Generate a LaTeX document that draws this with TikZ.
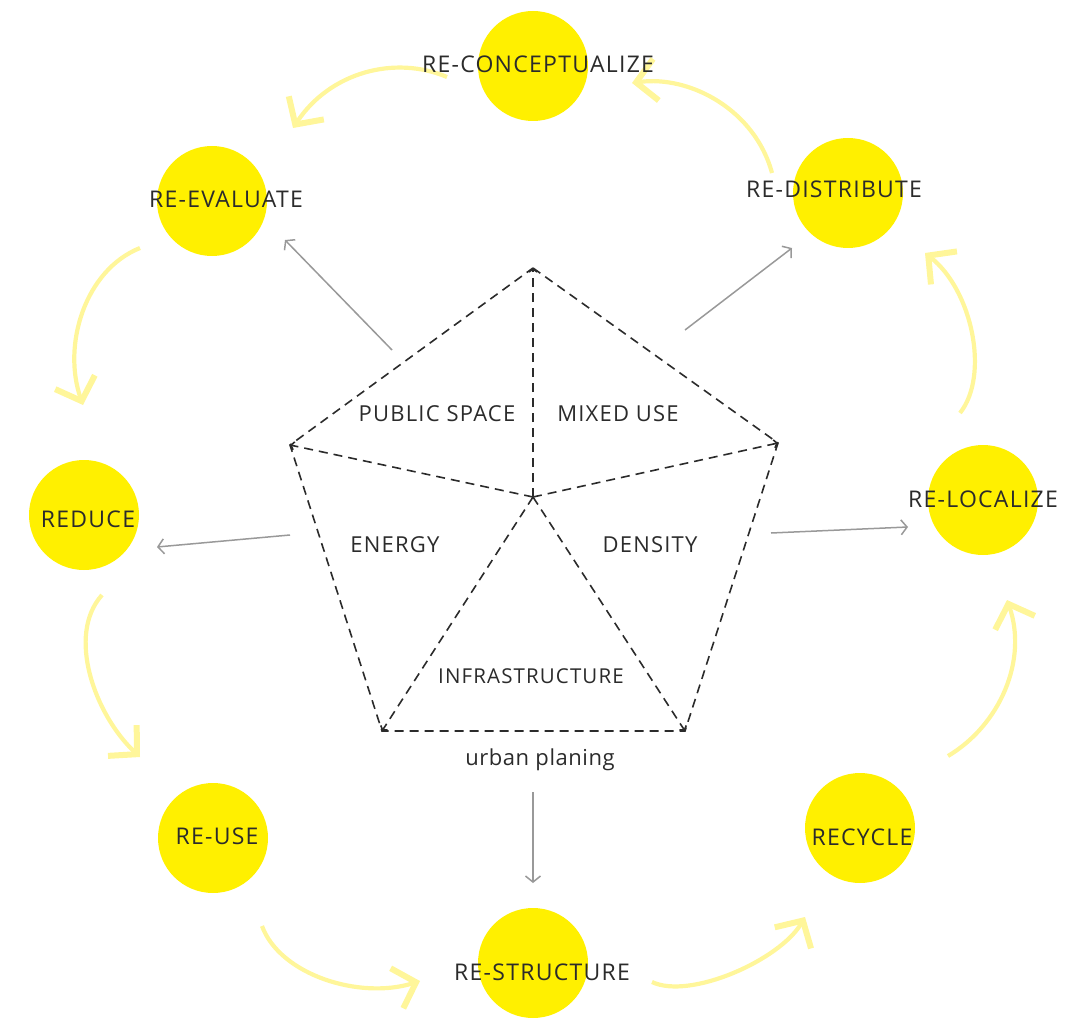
\documentclass[tikz,border=0pt]{standalone}
\usepackage{fontspec}
\setmainfont{Open Sans}[LetterSpace=2.5]
\newfontfamily\capsfont{Open Sans}[LetterSpace=5.5]
\usetikzlibrary{positioning, calc, arrows.meta}
\definecolor{sun}{HTML}{FFF000}
\definecolor{pale}{HTML}{FFF69A}
\definecolor{ink}{HTML}{2B2B2B}
\definecolor{wire}{HTML}{999999}
\tikzstyle{Flow} = [
%Create the pale curved arrows between circles:
draw=pale, line width=4.2pt,
-{Straight Barb[length=20pt, width=42pt, line width=6pt]}
]
\tikzstyle{Pointer} = [draw=wire, line width=1.5pt, -{Straight Barb[length=6pt, width=15pt]}]

\begin{document}
\begin{tikzpicture}[x=1pt, y=-1pt,
		bubble/.style = {circle, fill=sun, minimum size=110pt, inner sep=0pt},
		tag/.style = {anchor=base, text=ink, inner sep=0pt, font=\capsfont\fontsize{23}{23}\selectfont},
		part/.style = {anchor=base, text=ink, inner sep=0pt, font=\capsfont\fontsize{22}{22}\selectfont},
		rim/.style = {draw=ink, line width=1.6pt, dash pattern=on 9pt off 6pt},
		ray/.style = {rim, -{Straight Barb[length=3pt, width=8pt]}},
	]
	\useasboundingbox (0,0) rectangle (1087,1019);

	% circles
	\node[bubble](RC) at (533,66){};
	\node[bubble](RE) at (212,201){};
	\node[bubble](RD) at (848,193){};
	\node[bubble](RR) at (84,515){};
	\node[bubble](RL) at (983,500){};
	\node[bubble](RU) at (213,838){};
	\node[bubble](RY) at (860,828){};
	\node[bubble](RS) at (533,963){};

	% curved arrows
	\coordinate(f1) at (447,77);  \coordinate(g1) at (293,128);
	\coordinate(f2) at (140,248); \coordinate(g2) at (83,405);
	\coordinate(f3) at (102,595); \coordinate(g3) at (140,757);
	\coordinate(f4) at (262,926); \coordinate(g4) at (420,981);
	\coordinate(f5) at (652,982); \coordinate(g5) at (805,917);
	\coordinate(f6) at (948,756); \coordinate(g6) at (1007,600);
	\coordinate(f7) at (960,413); \coordinate(g7) at (925,253);
	\coordinate(f8) at (772,173); \coordinate(g8) at (632,83);

	\draw[Flow](f1) .. controls (395,55) and (330,72) .. (g1);
	\draw[Flow](f2) .. controls (85,270) and (62,345) .. (g2);
	\draw[Flow](f3) .. controls (66,635) and (95,715) .. (g3);
	\draw[Flow](f4) .. controls (280,975) and (360,1000) .. (g4);
	\draw[Flow](f5) .. controls (690,1000) and (780,960) .. (g5);
	\draw[Flow](f6) .. controls (1000,725) and (1028,660) .. (g6);
	\draw[Flow](f7) .. controls (990,375) and (972,290) .. (g7);
	\draw[Flow](f8) .. controls (755,110) and (690,75) .. (g8);

	% circle texts
	\node[tag](tRC) at (538,73){RE-CONCEPTUALIZE};
	\node[tag](tRE) at (226,208){RE-EVALUATE};
	\node[tag](tRD) at (834,198){RE-DISTRIBUTE};
	\node[tag](tRR) at (88,527){REDUCE};
	\node[tag](tRL) at (983,507){RE-LOCALIZE};
	\node[tag](tRU) at (217,844){RE-USE};
	\node[tag](tRY) at (862,845){RECYCLE};
	\node[tag](tRS) at (542,980){RE-STRUCTURE};

	% pentagon
	\coordinate(O) at (533,497);
	\coordinate(T) at (533,268);
	\coordinate(UR) at (778,443);
	\coordinate(LR) at (685,731);
	\coordinate(LL) at (382,731);
	\coordinate(UL) at (290,445);
	\draw[rim](T)--(UR)--(LR)--(LL)--(UL)--cycle;
	\foreach \v in {T,UR,LR,LL,UL}
		\draw[ray](O)--(\v);

	\node[part](PS) at (437,421){PUBLIC SPACE};
	\node[part](MU) at (618,421){MIXED USE};
	\node[part](EN) at (395,552){ENERGY};
	\node[part](DE) at (650,552){DENSITY};
	\node[part, font=\capsfont\fontsize{20.5}{20.5}\selectfont](IN) at (531,683){INFRASTRUCTURE};
	\node[part, font=\rmfamily\fontsize{22}{22}\selectfont](UP) at (540,765){urban planing};

	% gray arrows
	\coordinate(p1) at (392,350); \coordinate(q1) at (285,240);
	\coordinate(p2) at (685,330); \coordinate(q2) at (792,248);
	\coordinate(p3) at (290,535); \coordinate(q3) at (157,547);
	\coordinate(p4) at (771,533); \coordinate(q4) at (908,527);
	\coordinate(p5) at (533,792); \coordinate(q5) at (533,883);
	\foreach \i in {1,...,5}
		\draw[Pointer](p\i)--(q\i);
\end{tikzpicture}
\end{document}
